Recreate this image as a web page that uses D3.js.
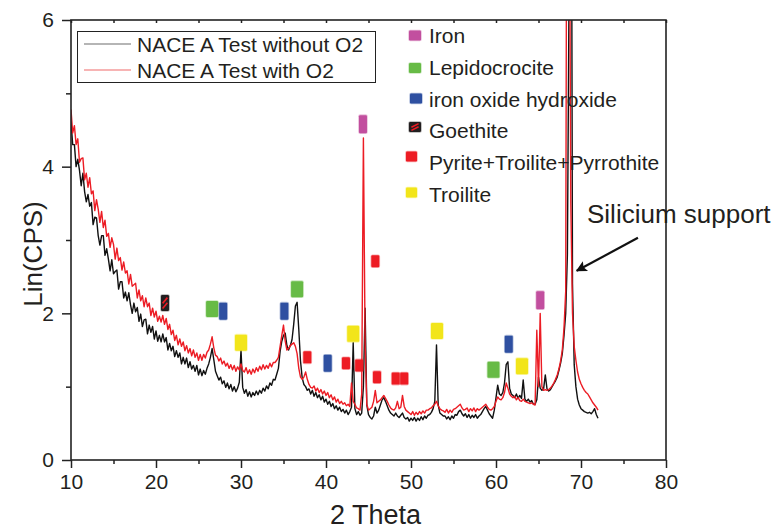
<!DOCTYPE html>
<html>
<head>
<meta charset="utf-8">
<script src="https://cdn.jsdelivr.net/npm/d3@7"></script>
<style>
  html, body { margin: 0; padding: 0; background: #fff; }
  svg { display: block; font-family: "Liberation Sans", Arial, sans-serif; }
</style>
</head>
<body>
<svg id="chart" width="772" height="529"></svg>
<script>
// XRD scans, Lin(CPS) sampled every 0.2° from 2θ = 10° to 72°
const thetaStart = 10;
const thetaStep = 0.2;

const cpsWithoutO2 = [
  4.62, 4.30, 4.30, 4.00, 4.10, 3.95, 3.74, 3.91, 3.66, 3.52,   // 10.0
  3.62, 3.46, 3.51, 3.21, 3.31, 3.30, 3.06, 2.93, 3.06, 3.06,   // 12.0
  2.79, 2.88, 2.74, 2.58, 2.73, 2.54, 2.57, 2.59, 2.33, 2.43,   // 14.0
  2.43, 2.21, 2.29, 2.17, 2.28, 2.12, 2.00, 2.14, 2.02, 2.08,   // 16.0
  1.89, 1.99, 1.82, 1.91, 1.92, 1.72, 1.84, 1.74, 1.82, 1.65,   // 18.0
  1.76, 1.62, 1.70, 1.61, 1.72, 1.61, 1.67, 1.50, 1.59, 1.49,   // 20.0
  1.55, 1.41, 1.49, 1.40, 1.46, 1.31, 1.40, 1.31, 1.39, 1.26,   // 22.0
  1.34, 1.24, 1.29, 1.21, 1.29, 1.16, 1.24, 1.15, 1.22, 1.17,   // 24.0
  1.25, 1.31, 1.40, 1.52, 1.37, 1.21, 1.15, 1.09, 1.13, 1.04,   // 26.0
  1.08, 0.99, 1.05, 0.97, 1.03, 0.94, 1.00, 0.93, 0.98, 1.06,   // 28.0
  1.50, 0.99, 0.91, 0.96, 0.87, 0.93, 0.86, 0.92, 0.88, 0.94,   // 30.0
  0.89, 0.95, 0.91, 0.98, 0.94, 1.01, 0.97, 1.05, 1.02, 1.10,   // 32.0
  1.09, 1.17, 1.25, 1.48, 1.62, 1.70, 1.73, 1.56, 1.50, 1.56,   // 34.0
  1.64, 1.85, 2.10, 2.15, 1.78, 1.35, 1.12, 1.03, 1.00, 0.95,   // 36.0
  0.97, 0.90, 0.95, 0.87, 0.92, 0.85, 0.89, 0.82, 0.87, 0.79,   // 38.0
  0.83, 0.76, 0.80, 0.73, 0.77, 0.70, 0.74, 0.68, 0.72, 0.66,   // 40.0
  0.69, 0.64, 0.68, 0.62, 0.66, 0.72, 1.60, 0.70, 0.62, 0.66,   // 42.0
  0.61, 0.64, 1.00, 2.07, 0.75, 0.62, 0.58, 0.56, 0.60, 0.72,   // 44.0
  0.64, 0.68, 0.75, 0.82, 0.85, 0.80, 0.74, 0.68, 0.64, 0.62,   // 46.0
  0.60, 0.64, 0.60, 0.58, 0.61, 0.64, 0.58, 0.56, 0.58, 0.53,   // 48.0
  0.57, 0.54, 0.58, 0.53, 0.57, 0.54, 0.59, 0.55, 0.60, 0.57,   // 50.0
  0.61, 0.62, 0.65, 0.70, 0.80, 1.57, 0.75, 0.64, 0.62, 0.60,   // 52.0
  0.60, 0.56, 0.59, 0.55, 0.60, 0.57, 0.62, 0.61, 0.66, 0.68,   // 54.0
  0.63, 0.60, 0.63, 0.58, 0.62, 0.57, 0.61, 0.58, 0.62, 0.57,   // 56.0
  0.60, 0.62, 0.66, 0.70, 0.73, 0.68, 0.63, 0.60, 0.57, 0.68,   // 58.0
  0.85, 1.02, 0.90, 0.88, 0.92, 1.05, 1.30, 1.34, 0.98, 0.90,   // 60.0
  0.88, 0.85, 0.90, 0.84, 0.88, 0.84, 1.09, 0.83, 0.80, 0.83,   // 62.0
  0.79, 0.81, 0.76, 0.76, 0.82, 1.13, 0.98, 0.95, 0.97, 1.16,   // 64.0
  0.97, 0.94, 0.96, 1.00, 1.04, 1.08, 1.13, 1.22, 1.32, 1.45,   // 66.0
  1.70, 2.00, 2.80, 6.50, 12.0, 2.40, 1.30, 1.00, 0.83, 0.75,   // 68.0
  0.70, 0.68, 0.66, 0.65, 0.64, 0.65, 0.63, 0.66, 0.70, 0.62,   // 70.0
  0.57                                                          // 72.0
];

const cpsWithO2 = [
  4.78, 4.46, 4.56, 4.30, 4.38, 4.06, 4.11, 4.12, 3.82, 3.91,   // 10.0
  3.72, 3.85, 3.63, 3.67, 3.40, 3.55, 3.42, 3.24, 3.39, 3.17,   // 12.0
  3.27, 3.05, 3.09, 2.90, 3.03, 2.94, 2.74, 2.89, 2.72, 2.76,   // 14.0
  2.59, 2.70, 2.55, 2.58, 2.40, 2.53, 2.37, 2.39, 2.41, 2.21,   // 16.0
  2.32, 2.17, 2.24, 2.09, 2.21, 2.09, 2.14, 1.97, 2.07, 1.95,   // 18.0
  2.03, 1.89, 1.96, 1.88, 1.97, 1.85, 1.93, 1.78, 1.85, 1.71,   // 20.0
  1.77, 1.63, 1.70, 1.57, 1.65, 1.55, 1.61, 1.49, 1.56, 1.46,   // 22.0
  1.52, 1.42, 1.50, 1.40, 1.46, 1.36, 1.44, 1.36, 1.44, 1.39,   // 24.0
  1.47, 1.50, 1.58, 1.68, 1.53, 1.43, 1.41, 1.35, 1.39, 1.31,   // 26.0
  1.35, 1.28, 1.32, 1.25, 1.30, 1.23, 1.29, 1.21, 1.27, 1.23,   // 28.0
  1.31, 1.22, 1.20, 1.26, 1.18, 1.23, 1.17, 1.24, 1.19, 1.26,   // 30.0
  1.21, 1.28, 1.23, 1.30, 1.24, 1.29, 1.25, 1.32, 1.27, 1.33,   // 32.0
  1.33, 1.36, 1.40, 1.55, 1.70, 1.84, 1.62, 1.50, 1.52, 1.56,   // 34.0
  1.58, 1.60, 1.55, 1.45, 1.25, 1.13, 1.10, 1.13, 1.20, 1.10,   // 36.0
  1.03, 0.99, 0.98, 1.01, 0.94, 0.98, 0.92, 0.96, 0.90, 0.94,   // 38.0
  0.88, 0.92, 0.85, 0.89, 0.82, 0.86, 0.79, 0.83, 0.77, 0.80,   // 40.0
  0.76, 0.78, 0.74, 0.76, 0.73, 1.05, 0.80, 0.76, 0.71, 0.70,   // 42.0
  0.68, 0.90, 4.39, 1.60, 0.76, 0.68, 0.70, 0.72, 0.80, 0.95,   // 44.0
  0.78, 0.80, 0.82, 0.85, 0.88, 0.84, 0.80, 0.75, 0.71, 0.69,   // 46.0
  0.68, 0.71, 0.80, 0.70, 0.72, 0.88, 0.73, 0.68, 0.66, 0.64,   // 48.0
  0.62, 0.66, 0.61, 0.65, 0.62, 0.66, 0.63, 0.67, 0.64, 0.68,   // 50.0
  0.68, 0.70, 0.71, 0.74, 0.76, 0.80, 0.74, 0.70, 0.68, 0.67,   // 52.0
  0.65, 0.69, 0.64, 0.68, 0.65, 0.69, 0.70, 0.72, 0.74, 0.76,   // 54.0
  0.71, 0.68, 0.69, 0.71, 0.66, 0.70, 0.67, 0.71, 0.66, 0.70,   // 56.0
  0.68, 0.70, 0.72, 0.74, 0.76, 0.72, 0.69, 0.68, 0.70, 0.73,   // 58.0
  0.80, 0.86, 0.83, 0.82, 0.85, 0.92, 1.05, 0.98, 0.90, 0.87,   // 60.0
  0.85, 0.87, 0.82, 0.85, 0.81, 0.80, 0.83, 0.80, 0.79, 0.78,   // 62.0
  0.77, 0.78, 0.76, 0.75, 1.77, 1.00, 2.00, 1.00, 0.95, 0.96,   // 64.0
  0.95, 0.96, 0.98, 1.01, 1.05, 1.10, 1.16, 1.24, 1.35, 1.50,   // 66.0
  1.80, 2.30, 12.0, 9.00, 3.50, 2.00, 1.55, 1.36, 1.20, 1.10,   // 68.0
  1.04, 0.99, 0.95, 0.92, 0.90, 0.86, 0.82, 0.78, 0.75, 0.72,   // 70.0
  0.68                                                          // 72.0
];

const seriesNames = ["NACE A Test without O2", "NACE A Test with O2"];

const xMajorTicks = [10, 20, 30, 40, 50, 60, 70, 80];
const xMinorTicks = [15, 25, 35, 45, 55, 65, 75];
const yMajorTicks = [0, 2, 4, 6];
const yMinorTicks = [1, 3, 5];

// Phase identification marks: [2θ, Lin(CPS) level]
const phaseNames = ["Iron", "Lepidocrocite", "iron oxide hydroxide", "Goethite",
                    "Pyrite+Troilite+Pyrrothite", "Troilite"];
const ironMarks = [[44.35, 4.58], [65.2, 2.18]];
const lepidocrociteMarks = [[26.6, 2.06], [36.6, 2.33], [59.7, 1.23]];
const ironOxideHydroxideMarks = [[27.9, 2.03], [35.1, 2.03], [40.2, 1.32], [61.5, 1.58]];
const goethiteMarks = [[21.06, 2.14]];
const sulfideMarks = [[37.8, 1.40], [42.35, 1.32], [43.9, 1.29], [45.8, 2.71],
                      [46.0, 1.13], [48.2, 1.11], [49.2, 1.11]];
const troiliteMarks = [[30.0, 1.60], [43.2, 1.72], [53.06, 1.76], [63.06, 1.28]];

const calloutText = "Silicium support";
const calloutArrowFrom = [76.7, 3.03];
const calloutArrowTo = [69.5, 2.58];

// ---- drawing ----
const svg = d3.select("#chart");
const plotLeft = 71, plotRight = 666, plotTop = 20, plotBottom = 460;

const x = d3.scaleLinear().domain([10, 80]).range([plotLeft, plotRight]);
const y = d3.scaleLinear().domain([0, 6]).range([plotBottom, plotTop]);

const axisColor = "#222";
const textColor = "#231f20";

const defs = svg.append("defs");
defs.append("clipPath").attr("id", "plotClip")
  .append("rect").attr("x", plotLeft).attr("y", plotTop)
  .attr("width", plotRight - plotLeft).attr("height", plotBottom - plotTop);

// scans
const line = d3.line()
  .x((d, i) => x(thetaStart + i * thetaStep))
  .y(d => y(d));

const curves = svg.append("g").attr("clip-path", "url(#plotClip)");
curves.append("path").datum(cpsWithoutO2)
  .attr("d", line).attr("fill", "none")
  .attr("stroke", "#111").attr("stroke-width", 1.4).attr("stroke-linejoin", "round");
curves.append("path").datum(cpsWithO2)
  .attr("d", line).attr("fill", "none")
  .attr("stroke", "#ec1c24").attr("stroke-width", 1.4).attr("stroke-linejoin", "round");

// phase styles
const phaseStyles = [
  { marks: ironMarks, color: "#c24f9f", w: 8, h: 18, lw: 12, lh: 10 },
  { marks: lepidocrociteMarks, color: "#67bb46", w: 12, h: 16, lw: 12, lh: 10 },
  { marks: ironOxideHydroxideMarks, color: "#2f50a1", w: 8, h: 17, lw: 12, lh: 10 },
  { marks: goethiteMarks, color: "#231f20", w: 8, h: 16, lw: 12, lh: 10, hatch: true },
  { marks: sulfideMarks, color: "#ed1c24", w: 8, h: 12, lw: 11, lh: 10 },
  { marks: troiliteMarks, color: "#f2e51a", w: 12, h: 16, lw: 11, lh: 10 }
];

function drawMark(g, cx, cy, w, h, st) {
  g.append("rect")
    .attr("x", cx - w / 2).attr("y", cy - h / 2)
    .attr("width", w).attr("height", h)
    .attr("rx", 1.2)
    .attr("fill", st.color)
    .attr("stroke", st.color).attr("stroke-opacity", 0.35).attr("stroke-width", 1.6);
  if (st.hatch) {
    for (let k = 0; k < 2; k++) {
      const off = (k - 0.5) * h * 0.32;
      g.append("line")
        .attr("x1", cx - w * 0.3).attr("y1", cy + h * 0.18 + off)
        .attr("x2", cx + w * 0.3).attr("y2", cy - h * 0.18 + off)
        .attr("stroke", "#ed1c24").attr("stroke-width", 1.6);
    }
  }
}

const markLayer = svg.append("g");
phaseStyles.forEach(st => {
  st.marks.forEach(([t, v]) => drawMark(markLayer, x(t), y(v), st.w, st.h, st));
});

// frame
svg.append("rect")
  .attr("x", plotLeft).attr("y", plotTop)
  .attr("width", plotRight - plotLeft).attr("height", plotBottom - plotTop)
  .attr("fill", "none").attr("stroke", axisColor).attr("stroke-width", 1.6);

// axes
function styleAxis(g) {
  g.select(".domain").remove();
  g.selectAll(".tick line").attr("stroke", axisColor).attr("stroke-width", 1.5);
  g.selectAll(".tick text").attr("fill", textColor)
    .style("font-size", "21px").style("font-family", "'Liberation Sans', Arial, sans-serif");
}

svg.append("g").attr("transform", `translate(0,${plotBottom})`)
  .call(d3.axisBottom(x).tickValues(xMajorTicks).tickSize(8).tickPadding(6).tickFormat(d3.format("d")))
  .call(styleAxis);
svg.append("g").attr("transform", `translate(0,${plotBottom})`)
  .call(d3.axisBottom(x).tickValues(xMinorTicks).tickSize(4).tickFormat(""))
  .call(styleAxis);
svg.append("g").attr("transform", `translate(${plotLeft},0)`)
  .call(d3.axisLeft(y).tickValues(yMajorTicks).tickSize(9).tickPadding(8).tickFormat(d3.format("d")))
  .call(styleAxis);
svg.append("g").attr("transform", `translate(${plotLeft},0)`)
  .call(d3.axisLeft(y).tickValues(yMinorTicks).tickSize(5).tickFormat(""))
  .call(styleAxis);
svg.append("g").attr("transform", `translate(0,${plotTop})`)
  .call(d3.axisBottom(x).tickValues(xMajorTicks.concat(xMinorTicks)).tickSize(3).tickFormat(""))
  .call(styleAxis);

// axis titles
svg.append("text")
  .attr("x", (plotLeft + plotRight) / 2 + 7).attr("y", 524)
  .attr("text-anchor", "middle").attr("fill", textColor)
  .style("font-size", "27px").text("2 Theta");
svg.append("text")
  .attr("transform", "translate(42,254) rotate(-90)")
  .attr("text-anchor", "middle").attr("fill", textColor)
  .style("font-size", "26px").text("Lin(CPS)");

// series legend
const leg = svg.append("g");
leg.append("rect").attr("x", 77.5).attr("y", 31.5).attr("width", 298).attr("height", 51)
  .attr("fill", "#fff").attr("stroke", axisColor).attr("stroke-width", 1);
const legendColors = ["#6d6d6d", "#f06a6a"];
seriesNames.forEach((name, i) => {
  const ly = 44 + i * 26;
  leg.append("line").attr("x1", 84).attr("x2", 131).attr("y1", ly).attr("y2", ly)
    .attr("stroke", legendColors[i]).attr("stroke-width", 1.2);
  leg.append("text").attr("x", 137).attr("y", ly + 8)
    .attr("fill", textColor).style("font-size", "21px").text(name);
});

// phase legend
const phaseLegendMarkY = [35.5, 68, 98.5, 127, 156.5, 192.5];
const phaseLegendMarkX = [415, 415, 416, 415, 411.5, 411.5];
const phaseLegendTextY = [43, 75, 107, 138, 170, 202];
const pl = svg.append("g");
phaseNames.forEach((name, i) => {
  const st = phaseStyles[i];
  drawMark(pl, phaseLegendMarkX[i], phaseLegendMarkY[i], st.lw, st.lh, st);
  pl.append("text").attr("x", 429).attr("y", phaseLegendTextY[i])
    .attr("fill", textColor).style("font-size", "21px").text(name);
});

// silicon substrate callout
defs.append("marker")
  .attr("id", "arrowHead").attr("viewBox", "0 0 10 10")
  .attr("refX", 9).attr("refY", 5)
  .attr("markerWidth", 6).attr("markerHeight", 5).attr("orient", "auto")
  .attr("markerUnits", "strokeWidth")
  .append("path").attr("d", "M0,0 L10,5 L0,10 L2,5 Z").attr("fill", "#111");
svg.append("line")
  .attr("x1", x(calloutArrowFrom[0])).attr("y1", y(calloutArrowFrom[1]))
  .attr("x2", x(calloutArrowTo[0])).attr("y2", y(calloutArrowTo[1]))
  .attr("stroke", "#111").attr("stroke-width", 2.2)
  .attr("marker-end", "url(#arrowHead)");
svg.append("text")
  .attr("x", 587).attr("y", 223)
  .attr("fill", textColor).style("font-size", "26px").text(calloutText);
</script>
</body>
</html>
